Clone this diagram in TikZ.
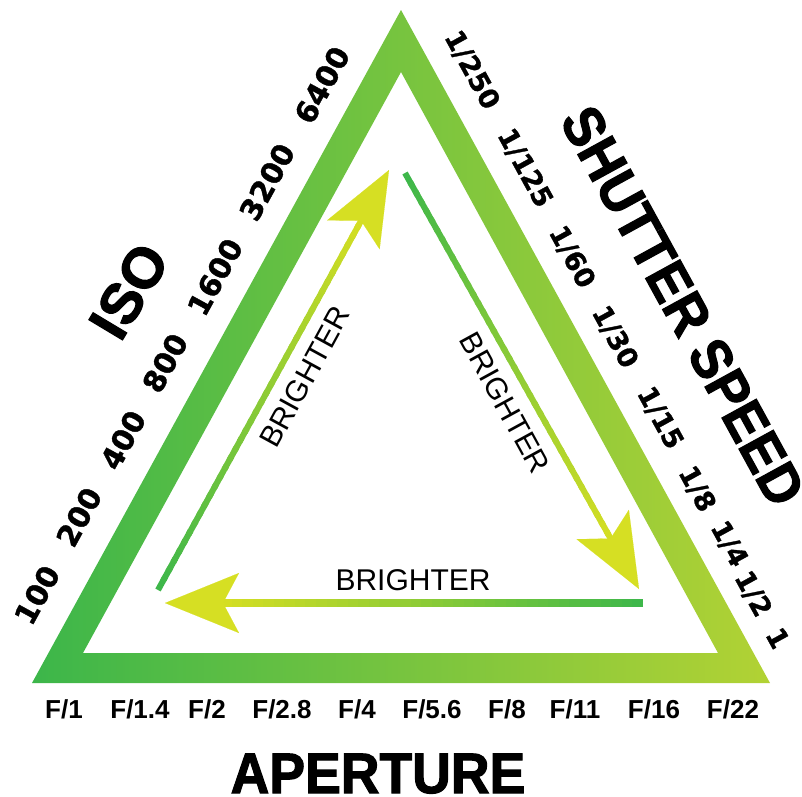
\documentclass[tikz,border=0pt]{standalone}
\usepackage{fontspec}
\setmainfont{Liberation Sans}
\newfontfamily\numfont{DejaVu Sans}[BoldFeatures={FakeBold=1.2}]
\newfontfamily\titlefont{Liberation Sans}[BoldFeatures={FakeBold=2}]
\usetikzlibrary{arrows.meta,calc}
\definecolor{dgreen}{RGB}{60,182,74}
\definecolor{lgreen}{RGB}{178,210,52}
\definecolor{ayellow}{RGB}{214,223,35}
\tikzset{
  isonum/.style={font=\numfont\bfseries\fontsize{29.5}{29.5}\selectfont,rotate=61.3,inner sep=0pt},
  ssnum/.style={font=\numfont\bfseries\fontsize{27}{27}\selectfont,rotate=-61.3,inner sep=0pt},
  fnum/.style={font=\bfseries\fontsize{26}{26}\selectfont,anchor=base,inner sep=0pt},
  bright/.style={font=\fontsize{30}{30}\selectfont,inner sep=0pt},
  title/.style={font=\titlefont\bfseries\fontsize{57}{57}\selectfont,inner sep=0pt},
  head/.style={line width=.1pt,color=ayellow,-{Stealth[length=74pt,width=60pt,inset=16pt,color=ayellow]}}
}
% shaft coloured from #4 (at #1) to #5 (at #2)
\newcommand{\gradline}[5]{%
  \foreach \gi in {1,...,40}{%
    \pgfmathsetmacro{\gfa}{(\gi-1)/40}%
    \pgfmathsetmacro{\gfb}{min(\gi/40+0.01,1)}%
    \pgfmathsetmacro{\gfp}{100*(\gi-0.5)/40}%
    \draw[line width=#3,color=#5!\gfp!#4] ($(#1)!\gfa!(#2)$) -- ($(#1)!\gfb!(#2)$);
  }}
\begin{document}
\begin{tikzpicture}[x=1pt,y=-1pt]
  \useasboundingbox (0,0) rectangle (802,796);
  % frame
  \shade[left color=dgreen,right color=lgreen,even odd rule]
    (32,683) -- (401,10) -- (770,683) -- cycle (83,653) -- (401,72) -- (718,653) -- cycle;
  % arrows
  \coordinate (isoS) at (158,590); \coordinate (isoT) at (389,170);
  \coordinate (ssS) at (405,173); \coordinate (ssT) at (639,589);
  \coordinate (apS) at (643,603); \coordinate (apT) at (165,603);
  \coordinate (isoE) at ($(isoT)!56pt!(isoS)$); \coordinate (isoH) at ($(isoT)!60pt!(isoS)$);
  \coordinate (ssE) at ($(ssT)!56pt!(ssS)$); \coordinate (ssH) at ($(ssT)!60pt!(ssS)$);
  \coordinate (apE) at ($(apT)!56pt!(apS)$); \coordinate (apH) at ($(apT)!60pt!(apS)$);
  \gradline{isoS}{isoE}{6pt}{dgreen}{ayellow} \draw[head] (isoH) -- (isoT);
  \gradline{ssS}{ssE}{6pt}{dgreen}{ayellow} \draw[head] (ssH) -- (ssT);
  \gradline{apS}{apE}{7.5pt}{dgreen}{ayellow} \draw[head] (apH) -- (apT);
  \node[bright,rotate=61.3] (brIso) at (305,377) {BRIGHTER};
  \node[bright,rotate=-61.3] (brSs) at (505,403) {BRIGHTER};
  \node[bright,anchor=base] (brAp) at (413,590) {BRIGHTER};
  % iso
  \node[isonum] (i100) at (37,595) {100}; \node[isonum] (i200) at (79,517) {200};
  \node[isonum] (i400) at (123,440) {400}; \node[isonum] (i800) at (165,363) {800};
  \node[isonum] (i1600) at (215,277) {1600}; \node[isonum] (i3200) at (267,182) {3200};
  \node[isonum] (i6400) at (322,85) {6400};
  \node[rotate=59,title] (iso) at (129,291) {ISO};
  % shutter speed
  \node[ssnum] (s250) at (472,70) {1/250}; \node[ssnum] (s125) at (525,168) {1/125};
  \node[ssnum] (s60) at (572,257) {1/60}; \node[ssnum] (s30) at (615,337) {1/30};
  \node[ssnum] (s15) at (660,418) {1/15}; \node[ssnum] (s8) at (697,489) {1/8};
  \node[ssnum] (s4) at (729,544) {1/4}; \node[ssnum] (s2) at (753,594) {1/2};
  \node[ssnum] (s1) at (778,638) {1};
  \node[rotate=-61.3,title,xscale=.93] (shutter) at (683,306) {SHUTTER SPEED};
  % aperture
  \node[fnum] (f1) at (64,718) {F/1}; \node[fnum] (f14) at (140,718) {F/1.4};
  \node[fnum] (f2) at (207,718) {F/2}; \node[fnum] (f28) at (282,718) {F/2.8};
  \node[fnum] (f4) at (357,718) {F/4}; \node[fnum] (f56) at (432,718) {F/5.6};
  \node[fnum] (f8) at (507,718) {F/8}; \node[fnum] (f11) at (575,718) {F/11};
  \node[fnum] (f16) at (654,718) {F/16}; \node[fnum] (f22) at (733,718) {F/22};
  \node[title,anchor=base,xscale=.94] (aperture) at (378,793) {APERTURE};
\end{tikzpicture}
\end{document}
